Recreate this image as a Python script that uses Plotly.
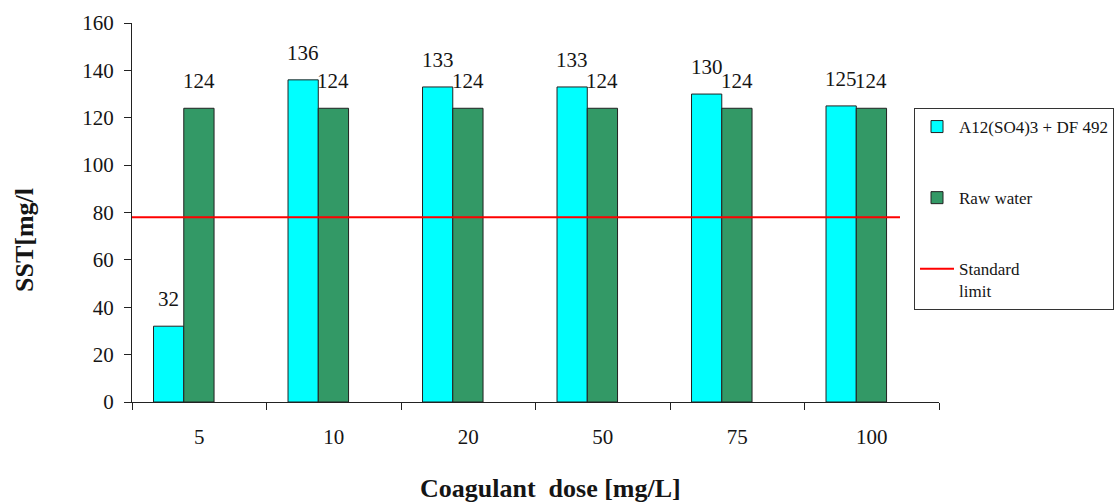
import plotly.graph_objects as go

categories = ["5", "10", "20", "50", "75", "100"]
treated = [32, 136, 133, 133, 130, 125]
raw_water = [124, 124, 124, 124, 124, 124]
standard_limit = 78

series_names = ["A12(SO4)3 + DF 492", "Raw water", "Standard<br>limit"]
x_title = "<b>Coagulant  dose [mg/L]</b>"
y_title = "<b>SST[mg/l</b>"

idx = list(range(len(categories)))
W = 0.225
OFF_T = -0.34
OFF_R = -0.115
FONT = "Liberation Serif"
TXT = "#151515"

L, R, T, B = 132, 179, 23, 102
PW = 1118 - L - R
PH = 504 - T - B

fig = go.Figure()
fig.add_trace(go.Bar(
    x=idx, y=treated, name=series_names[0], offset=OFF_T, width=W,
    marker=dict(color="#00FFFF", line=dict(color="#222222", width=1)),
    legendgroup="a"))
fig.add_trace(go.Bar(
    x=idx, y=raw_water, name=series_names[1], offset=OFF_R, width=W,
    marker=dict(color="#339966", line=dict(color="#222222", width=1)),
    legendgroup="b"))
fig.add_trace(go.Scatter(
    x=[-0.53, 5.21], y=[standard_limit, standard_limit], mode="lines",
    name=series_names[2], line=dict(color="#FF0000", width=2),
    legendgroup="c"))

for i, v in zip(idx, treated):
    fig.add_annotation(x=i + OFF_T + W / 2, y=v, text=str(v), showarrow=False,
                       yanchor="bottom", yshift=13,
                       font=dict(family=FONT, size=21, color=TXT))
for i, v in zip(idx, raw_water):
    fig.add_annotation(x=i + OFF_R + W / 2, y=v, text=str(v), showarrow=False,
                       yanchor="bottom", yshift=13,
                       font=dict(family=FONT, size=21, color=TXT))

# axis titles (placed as in the reference, off-centre)
fig.add_annotation(xref="paper", yref="paper", x=(550 - L) / PW, y=(402 - 488) / PH,
                   text=x_title, showarrow=False, xanchor="center", yanchor="middle",
                   font=dict(family=FONT, size=26, color=TXT))
fig.add_annotation(xref="paper", yref="paper", x=(24 - L) / PW, y=(402 - 240) / PH,
                   text=y_title, showarrow=False, textangle=-90,
                   xanchor="center", yanchor="middle",
                   font=dict(family=FONT, size=26, color=TXT))

fig.update_layout(
    width=1118, height=504,
    margin=dict(l=L, r=R, t=T, b=B, autoexpand=False),
    paper_bgcolor="white", plot_bgcolor="white",
    barmode="overlay",
    font=dict(family=FONT, size=20, color=TXT),
    showlegend=True,
    legend=dict(
        x=(914 - L) / PW, y=(402 - 108) / PH,
        xanchor="left", yanchor="top",
        xref="paper", yref="paper",
        bgcolor="white", bordercolor="#333333", borderwidth=1,
        font=dict(family=FONT, size=17, color=TXT),
        traceorder="grouped", tracegroupgap=46,
        itemwidth=34, valign="top",
    ),
    xaxis=dict(
        range=[-0.5, 5.5], tickvals=idx, ticktext=categories,
        ticks="", showline=True, linecolor="#222222", linewidth=1,
        showgrid=False, zeroline=False, ticklabelstandoff=16,
        automargin=False,
        tickfont=dict(family=FONT, size=21, color=TXT),
        minor=dict(ticks="outside", ticklen=7, tickcolor="#222222",
                   tick0=-0.5, dtick=1, showgrid=False),
    ),
    yaxis=dict(
        range=[0, 160], dtick=20, ticks="outside", ticklen=7,
        tickcolor="#222222", showline=True, linecolor="#222222", linewidth=1,
        showgrid=False, zeroline=False, automargin=False, ticklabelstandoff=6,
        tickfont=dict(family=FONT, size=21, color=TXT),
    ),
)

fig.write_html("out.html")
